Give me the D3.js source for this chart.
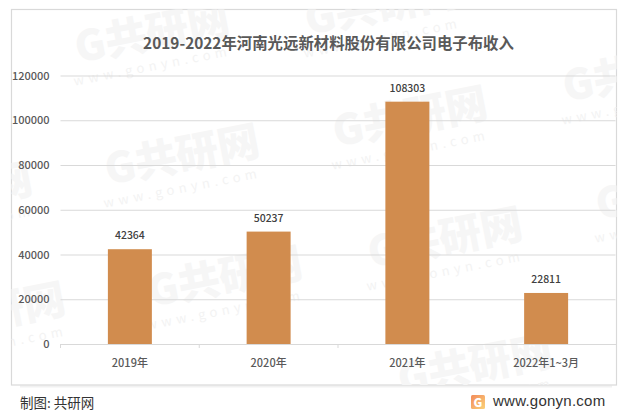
<!DOCTYPE html>
<html>
<head>
<meta charset="utf-8">
<script src="https://cdn.jsdelivr.net/npm/d3@7"></script>
<style>
    html, body { margin: 0; padding: 0; background: #fff; overflow: hidden; }
    text { font-family: "Noto Sans CJK SC", "Noto Sans", sans-serif; }
</style>
</head>
<body>
<div id="chart-area"></div>
<script>
//============================DATA============================
var categories = ["2019年", "2020年", "2021年", "2022年1~3月"];
var revenues = [42364, 50237, 108303, 22811];
var yTicks = [0, 20000, 40000, 60000, 80000, 100000, 120000];
var titleText = "2019-2022年河南光远新材料股份有限公司电子布收入";

// watermark stamp centres
var stampX = [152, 182, 225, 410, 445, 475, 640, 673, 382, -12, -45];
var stampY = [33, 155, 277, 117, 238, 365, 72, 190, 5, 313, 193];

//============================GLOBALS============================
var W = 634, H = 417;
var margins = { left: 60.5, right: 18.5, top: 75.5, bottom: 73 };
var width = W - margins.left - margins.right;
var height = H - margins.top - margins.bottom;

var svg = d3.select("#chart-area").append("svg")
    .attr("width", W)
    .attr("height", H)
    .style("display", "block");

var defs = svg.append("defs");
var grad = defs.append("linearGradient").attr("id", "logoGrad")
    .attr("x1", 0).attr("y1", 0).attr("x2", 1).attr("y2", 1);
grad.append("stop").attr("offset", "0%").attr("stop-color", "#f28a5a");
grad.append("stop").attr("offset", "100%").attr("stop-color", "#fbd27a");

//watermarks stop at the frame
defs.append("clipPath").attr("id", "frameClip")
    .append("rect")
    .attr("x", 11.5).attr("y", 9.5)
    .attr("width", 605).attr("height", 375.5);

//soft shadow under the frame
svg.append("line")
    .attr("x1", 20).attr("x2", 612)
    .attr("y1", 386.5).attr("y2", 386.5)
    .attr("stroke", "#f1f1f1")
    .attr("stroke-width", 2);

//frame
svg.append("rect")
    .attr("x", 11.5).attr("y", 9.5)
    .attr("width", 605).attr("height", 375.5)
    .attr("fill", "#fff")
    .attr("stroke", "#d9d9d9")
    .attr("stroke-width", 1.2);

//watermarks go under everything else
var stamps = svg.append("g")
    .attr("clip-path", "url(#frameClip)")
    .selectAll("g")
    .data(stampX)
    .enter().append("g")
    .attr("transform", function(d, i) { return "translate(" + d + "," + stampY[i] + ") rotate(-11)"; });
stamps.append("text")
    .attr("text-anchor", "middle")
    .attr("y", 15)
    .attr("font-size", 42)
    .attr("font-weight", 900)
    .attr("fill", "#f6f6f6")
    .text("G共研网");
stamps.append("text")
    .attr("text-anchor", "middle")
    .attr("x", -6)
    .attr("y", 37)
    .attr("font-size", 13)
    .attr("letter-spacing", 4.5)
    .attr("fill", "#f3f3f3")
    .text("www.gonyn.com");

var g = svg.append("g")
    .attr("transform", "translate(" + margins.left + ", " + margins.top + ")");

//========================SCALES=======================
var xAxisBand = d3.scaleBand().domain(categories).range([0, width]);
var x = d3.scaleBand().domain(categories).range([0, width])
    .paddingInner(0.683).paddingOuter(0.3415);
var y = d3.scaleLinear().domain([0, 120000]).range([height, 0]);

//y axis + gridlines
var yAxis = g.append("g").attr("class", "y-axis")
    .call(d3.axisLeft(y).tickValues(yTicks).tickSize(-width).tickPadding(11).tickFormat(d3.format("d")));
yAxis.select(".domain").remove();
yAxis.selectAll("line").attr("stroke", "#d9d9d9").attr("stroke-width", 1);
yAxis.selectAll("text").attr("font-size", 11).attr("font-weight", 500).attr("fill", "#595959");

//bars
g.selectAll("rect.bar")
    .data(revenues)
    .enter().append("rect")
    .attr("class", "bar")
    .attr("x", function(d, i) { return x(categories[i]); })
    .attr("y", function(d) { return y(d); })
    .attr("width", x.bandwidth())
    .attr("height", function(d) { return height - y(d); })
    .attr("fill", "#d18c4e");

//value labels
g.selectAll("text.value")
    .data(revenues)
    .enter().append("text")
    .attr("class", "value")
    .attr("x", function(d, i) { return x(categories[i]) + x.bandwidth() / 2; })
    .attr("y", function(d) { return y(d) - 10; })
    .attr("text-anchor", "middle")
    .attr("font-size", 10.5)
    .attr("font-weight", 500)
    .attr("fill", "#404040")
    .text(function(d) { return d; });

//x axis, ticks sit on the band edges
var xAxis = g.append("g").attr("class", "x-axis")
    .attr("transform", "translate(0, " + height + ")")
    .call(d3.axisBottom(xAxisBand).tickSize(0).tickPadding(15));
xAxis.select(".domain").attr("stroke", "#d9d9d9");
xAxis.selectAll("text").attr("font-size", 11).attr("font-weight", 500).attr("fill", "#595959");
xAxis.selectAll("line.edge")
    .data(categories.slice(0, 3))
    .enter().append("line")
    .attr("class", "edge")
    .attr("x1", function(d) { return xAxisBand(d); })
    .attr("x2", function(d) { return xAxisBand(d); })
    .attr("y1", 0).attr("y2", 4)
    .attr("stroke", "#d9d9d9");

//title
svg.append("text")
    .attr("x", 328.5).attr("y", 49)
    .attr("text-anchor", "middle")
    .attr("font-size", 15.4)
    .attr("font-weight", 700)
    .attr("fill", "#595959")
    .text(titleText);

//footer
svg.append("text")
    .attr("x", 20).attr("y", 408)
    .attr("font-size", 13.5)
    .attr("fill", "#333")
    .text("制图: 共研网");

var logo = svg.append("g").attr("transform", "translate(471, 395)");
logo.append("rect").attr("width", 14).attr("height", 14).attr("rx", 1.5).attr("fill", "url(#logoGrad)");
logo.append("text")
    .attr("x", 7).attr("y", 11.5)
    .attr("text-anchor", "middle")
    .attr("font-size", 12)
    .attr("font-weight", 900)
    .attr("fill", "#fff")
    .text("G");

svg.append("text")
    .attr("x", 493).attr("y", 406)
    .attr("font-size", 15)
    .style("font-family", "'Liberation Sans', sans-serif")
    .attr("letter-spacing", 0.25)
    .attr("fill", "#333")
    .text("www.gonyn.com");
</script>
</body>
</html>
